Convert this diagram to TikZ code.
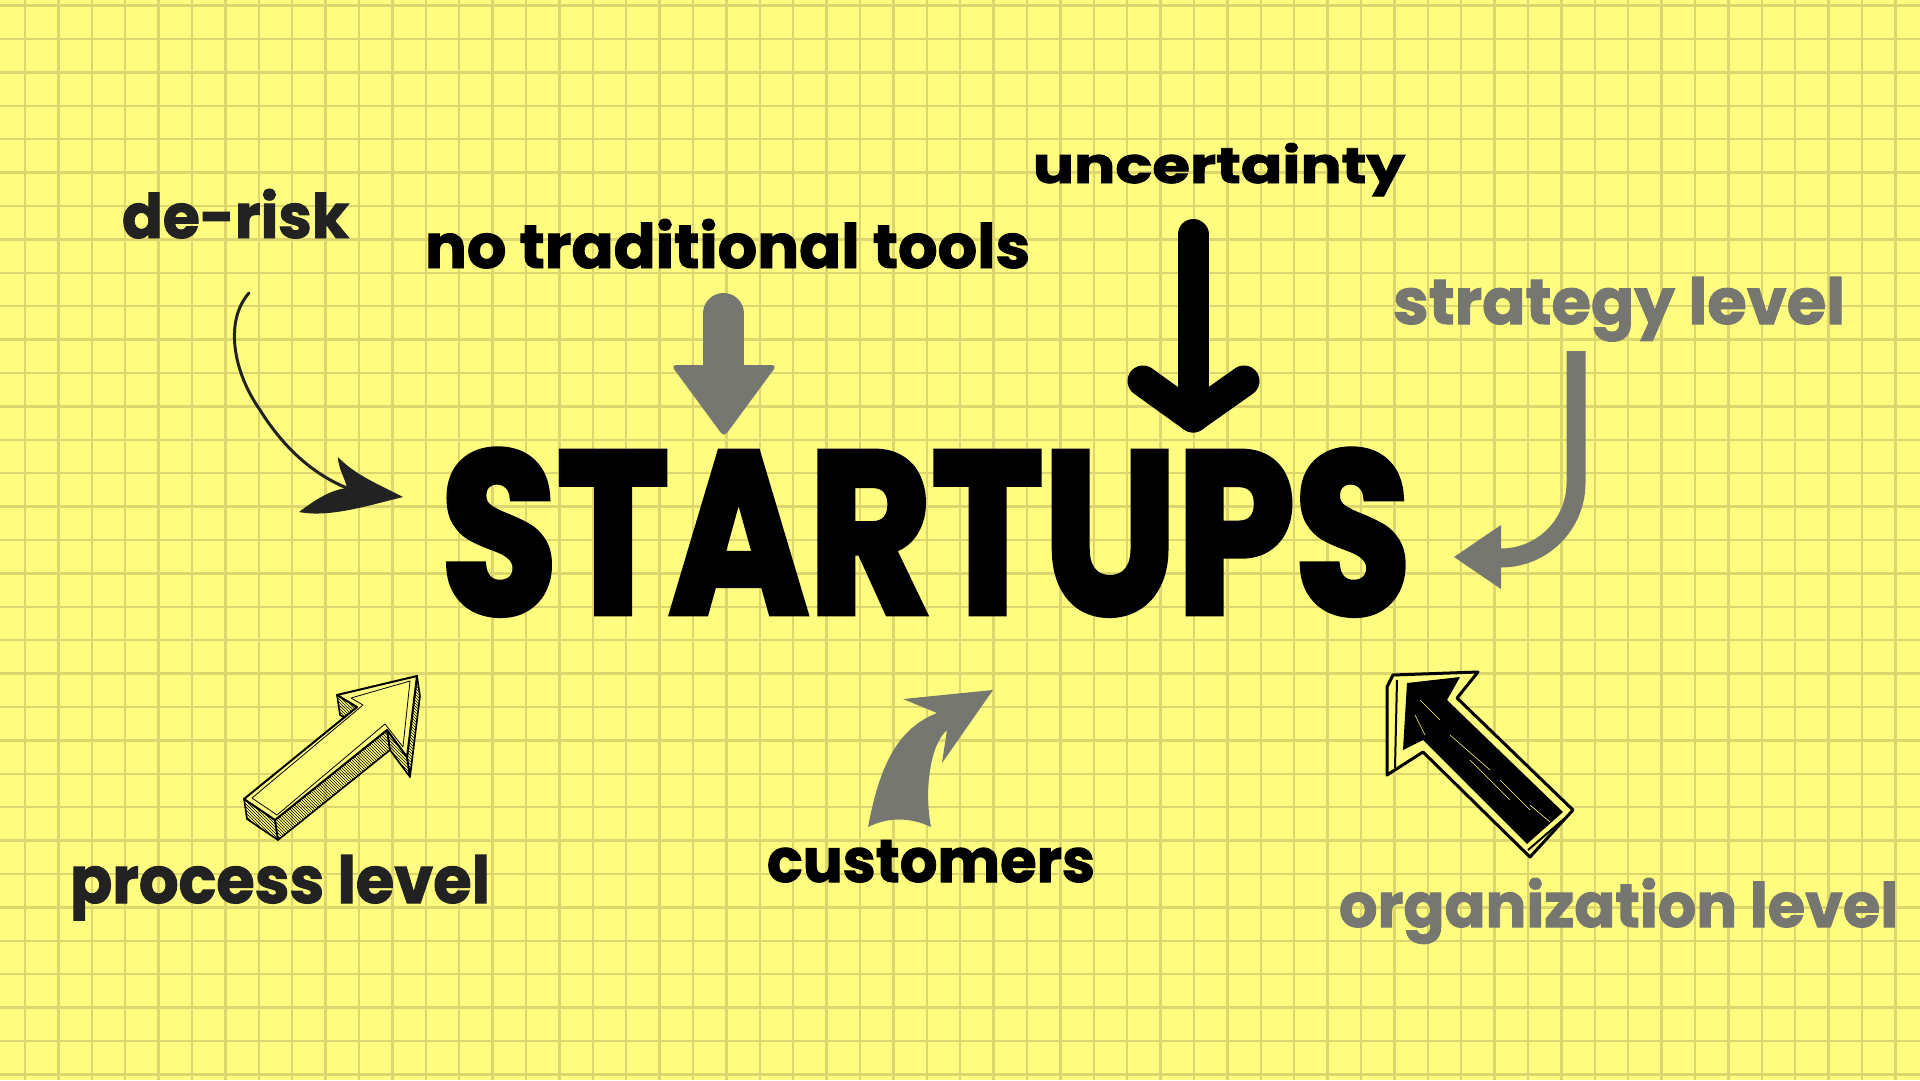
\documentclass[tikz,border=0pt]{standalone}
\usepackage{fontspec}
\newfontfamily\dispfont{Poppins}[BoldFeatures={FakeBold=1.6}]
\newfontfamily\heavyfont{Poppins}[BoldFeatures={FakeBold=3}]
\usetikzlibrary{patterns}
\definecolor{bgyellow}{RGB}{255,253,128}
\definecolor{gridcol}{RGB}{221,214,110}
\definecolor{arrgray}{RGB}{119,119,113}
\definecolor{inkdark}{RGB}{34,34,34}
\tikzset{
  gridline/.style={draw=gridcol, line width=2.4pt},
  lbl/.style={anchor=base west, inner sep=0pt, outer sep=0pt, font=\dispfont\bfseries},
  sideface/.style={pattern=north west lines, pattern color=black, draw=black, line width=1.6pt, line join=round},
  topface/.style={fill=bgyellow, draw=black, line width=2pt, line join=round},
}
\begin{document}
\begin{tikzpicture}[x=1pt,y=-1pt]
\useasboundingbox (0,0) rectangle (1920,1080);
\fill[bgyellow] (0,0) rectangle (1920,1080);
% grid
\foreach \i in {0,...,56} \draw[gridline] ({25+33.4*\i},0) -- ({25+33.4*\i},1080);
\foreach \j in {0,...,32} \draw[gridline] (0,{5.5+33.4*\j}) -- (1920,{5.5+33.4*\j});

% labels
\node[lbl, text=inkdark] (derisk) at (122,238) {\resizebox{227pt}{49pt}{de-risk}};
\node[lbl, text=black] (notools) at (425,268) {\resizebox{605pt}{49pt}{no traditional tools}};
\node[lbl, text=black] (uncert) at (1033,183) {\resizebox{372pt}{40pt}{uncertainty}};
\node[lbl, text=arrgray] (strat) at (1393,324) {\resizebox{452pt}{47pt}{strategy level}};
\node[lbl, text=inkdark] (proc) at (70,903) {\resizebox{420pt}{48pt}{process level}};
\node[lbl, text=black] (cust) at (767,882) {\resizebox{328pt}{42pt}{customers}};
\node[lbl, text=arrgray] (org) at (1339,927) {\resizebox{559pt}{49pt}{organization level}};
\node[lbl, text=black, font=\heavyfont\bfseries] (startups) at (441,613) {\resizebox{969pt}{163pt}{STARTUPS}};

% gray down arrow (no traditional tools)
\draw[arrgray, line width=41pt, line cap=round] (723.5,313.5) -- (723.5,380);
\fill[arrgray, rounded corners=5pt] (671,365) -- (777,365) -- (724,437) -- cycle;

% black down arrow (uncertainty)
\draw[black, line width=31pt, line cap=round, line join=round] (1193,234.5) -- (1193,417);
\draw[black, line width=31pt, line cap=round, line join=round] (1143,381) -- (1193,417) -- (1244,381);

% strategy level arrow
\draw[arrgray, line width=19pt] (1576,351) -- (1576,483) arc (0:90:75);
\fill[arrgray] (1501,525) -- (1454,557) -- (1501,589) -- cycle;

% customers arrow
\fill[arrgray] (868,827) .. controls (878,775) and (893,730) .. (937,713)
  -- (903,699) -- (993,690) -- (942,763) -- (947,730)
  .. controls (930,745) and (924,790) .. (931,827)
  .. controls (910,817) and (888,817) .. (868,827) -- cycle;

% de-risk arrow
\draw[inkdark, line width=3pt, line cap=round] (249,293) .. controls (225,320) and (232,370) .. (260,410)
  .. controls (285,450) and (315,475) .. (347,488);
\fill[inkdark] (338,457) .. controls (355,475) and (380,485) .. (403,497)
  .. controls (370,505) and (330,518) .. (299,512)
  .. controls (315,500) and (330,490) .. (347,488)
  .. controls (345,478) and (338,468) .. (338,457) -- cycle;

% process level 3D arrow
\begin{scope}
\def\dx{3}\def\dy{20}
\coordinate (T1) at (244,799);
\coordinate (T2) at (357,707);
\coordinate (T3) at (337,695);
\coordinate (T4) at (417,676);
\coordinate (T5) at (407,757);
\coordinate (T6) at (387,730);
\coordinate (T7) at (275,820);
\path[sideface] (T1) -- (T7) -- ([shift={(\dx,\dy)}]T7) -- ([shift={(\dx,\dy)}]T1) -- cycle;
\path[sideface] (T7) -- (T6) -- ([shift={(\dx,\dy)}]T6) -- ([shift={(\dx,\dy)}]T7) -- cycle;
\path[sideface] (T6) -- (T5) -- ([shift={(\dx,\dy)}]T5) -- ([shift={(\dx,\dy)}]T6) -- cycle;
\path[sideface] (T5) -- (T4) -- ([shift={(\dx,\dy)}]T4) -- ([shift={(\dx,\dy)}]T5) -- cycle;
\path[sideface] (T2) -- (T3) -- ([shift={(\dx,\dy)}]T3) -- ([shift={(\dx,\dy)}]T2) -- cycle;
\path[topface] (T1) -- (T2) -- (T3) -- (T4) -- (T5) -- (T6) -- (T7) -- cycle;
\draw[black, line width=0.8pt, line join=round] (252,798) -- (363,705) -- (351,698) -- (410,681) -- (403,747) -- (385,724) -- (277,815) -- cycle;
\end{scope}

% organization level scribbled arrow
\begin{scope}
\path[fill=bgyellow, draw=black, line width=3pt, line join=round]
  (1387,687) -- (1393,675) -- (1478,672) -- (1457,698) -- (1573,810) -- (1530,857)
  -- (1423,752) -- (1387,775) -- cycle;
\draw[black, line width=2pt] (1397,680) -- (1395,768);
\fill[black] (1407,683) -- (1460,677) -- (1447,700) -- (1563,812) -- (1527,844)
  -- (1423,740) -- (1403,750) -- cycle;
\draw[black, line width=2pt] (1565,818) -- (1528,850);
\foreach \a/\b/\c/\d in {1420/700/1440/720, 1450/735/1490/770, 1500/780/1530/810, 1415/715/1425/735, 1470/760/1510/800, 1530/805/1550/822}
  \draw[bgyellow, line width=0.6pt] (\a,\b) -- (\c,\d);
\end{scope}
\end{tikzpicture}
\end{document}
